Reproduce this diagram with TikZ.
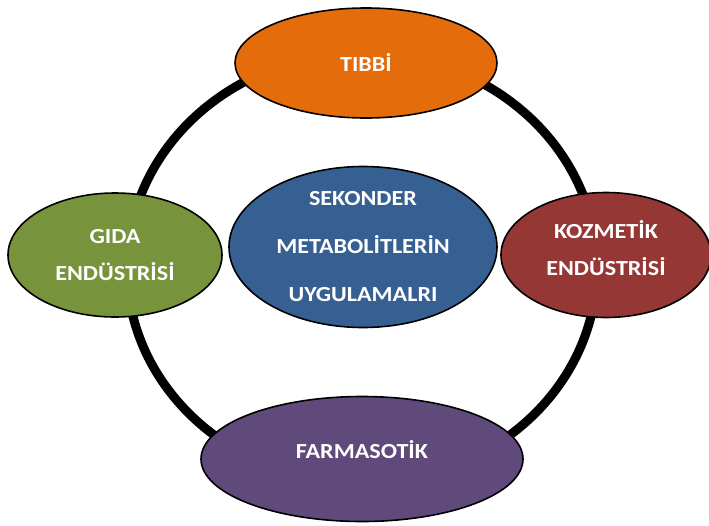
\documentclass[tikz,border=0pt]{standalone}
\usepackage{fontspec}
\setmainfont[FakeStretch=1.12]{Carlito}
\usepackage{tikz}
\usetikzlibrary{shapes.geometric}
\definecolor{tibbicol}{HTML}{E46C0A}
\definecolor{gidacol}{HTML}{77933C}
\definecolor{merkezcol}{HTML}{376092}
\definecolor{kozmetikcol}{HTML}{953735}
\definecolor{farmacol}{HTML}{604A7B}

\begin{document}
\begin{tikzpicture}[x=1pt, y=-1pt, font=\bfseries\fontsize{21.5}{37}\selectfont,
  alan/.style={ellipse, draw=black, line width=1.6pt, text=white, align=center, inner sep=0pt}]
\useasboundingbox (0,0) rectangle (709,525);
% outer ring
\draw[line width=9pt] (362,268) ellipse [x radius=235, y radius=215];

\node[alan, fill=merkezcol, minimum width=268, minimum height=161, font=\bfseries\fontsize{21.5}{48}\selectfont] (merkez) at (363,247) {SEKONDER\\METABOLİTLERİN\\UYGULAMALRI};

\node[alan, fill=tibbicol, minimum width=262, minimum height=110] (tibbi) at (366,63) {TIBBİ};
\node[alan, fill=gidacol, minimum width=214, minimum height=124] (gida) at (115,255) {GIDA\\ENDÜSTRİSİ};
\node[alan, fill=kozmetikcol, minimum width=210, minimum height=125, text depth=14pt] (kozmetik) at (606,255) {KOZMETİK\\ENDÜSTRİSİ};
\node[alan, fill=farmacol, minimum width=322, minimum height=125, text depth=18pt] (farma) at (362,459) {FARMASOTİK};
\end{tikzpicture}
\end{document}
